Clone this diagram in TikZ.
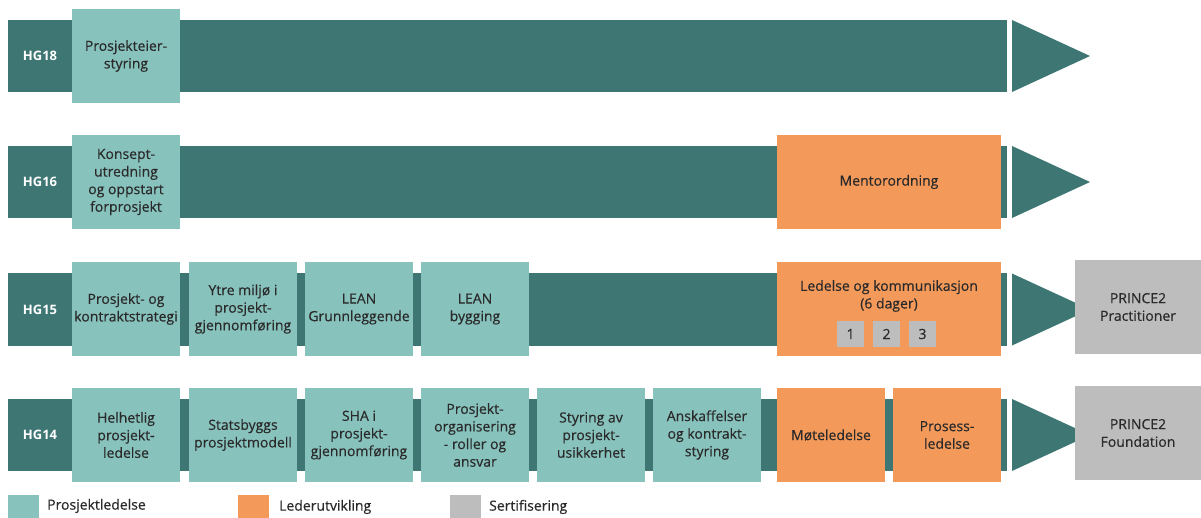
\documentclass[tikz,border=0pt]{standalone}
\usepackage{fontspec}
\setmainfont{Open Sans}
\newfontfamily\semif{Open Sans}[FakeBold=0.35]
\definecolor{dteal}{HTML}{3E7674}
\definecolor{lteal}{HTML}{87C2BC}
\definecolor{orng}{HTML}{F3995A}
\definecolor{gry}{HTML}{BDBDBD}
\definecolor{txt}{HTML}{2A2A2A}
\tikzset{
  bar/.style={fill=dteal, draw=none, minimum width=999pt, minimum height=72pt, inner sep=0pt},
  hglabel/.style={text=white, font=\fontsize{13}{17}\selectfont\bfseries},
  course/.style={fill=lteal, draw=none, minimum width=108pt, minimum height=94pt, inner sep=0pt, align=center, text=txt, font=\semif\fontsize{14}{17.6}\selectfont},
  lead/.style={course, fill=orng},
  cert/.style={course, fill=gry, minimum width=126pt},
  daybox/.style={fill=gry, draw=none, minimum width=27pt, minimum height=26pt, inner sep=0pt, text=txt, font=\semif\fontsize{14}{16}\selectfont},
  legsq/.style={draw=none, minimum width=31pt, minimum height=30pt, inner sep=0pt},
  legtxt/.style={anchor=west, text=txt, inner sep=0pt, font=\semif\fontsize{14}{16}\selectfont},
}
\begin{document}
\begin{tikzpicture}[x=1pt, y=-1pt]
\useasboundingbox[fill=white] (0,0) rectangle (1201,518);
% bars
\node[bar] (b18) at (507.5,56) {};
\node[bar] (b16) at (507.5,182) {};
\node[bar] (b15) at (507.5,309.5) {};
\node[bar] (b14) at (507.5,435) {};
% arrowheads
\foreach \yc in {56,182,309.5,435} {
  \fill[dteal] (1012,\yc-36) -- (1090,\yc) -- (1012,\yc+36) -- cycle;
}
% HG labels
\node[hglabel] (l18) at (40,56) {HG18};
\node[hglabel] (l16) at (40,182) {HG16};
\node[hglabel] (l15) at (40,309.5) {HG15};
\node[hglabel] (l14) at (40,435) {HG14};
% HG18
\node[course] (c18a) at (126,56) {Prosjekteier-\\styring};
% HG16
\node[course] (c16a) at (126,182) {Konsept-\\utredning\\og oppstart\\forprosjekt};
\node[lead, minimum width=224pt] (c16m) at (889,182) {Mentorordning};
% HG15
\node[course] (c15a) at (126,309) {Prosjekt- og\\kontraktstrategi};
\node[course] (c15b) at (243,309) {Ytre miljø i\\prosjekt-\\gjennomføring};
\node[course] (c15c) at (359,309) {LEAN\\Grunnleggende};
\node[course] (c15d) at (475,309) {LEAN\\bygging};
\node[lead, minimum width=224pt] (c15l) at (889,309) {};
\node[text=txt, align=center, font=\semif\fontsize{14}{17.6}\selectfont, inner sep=0pt] (c15lt) at (889,296) {Ledelse og kommunikasjon\\(6 dager)};
\node[daybox] (d1) at (850.5,334) {1};
\node[daybox] (d2) at (886.5,334) {2};
\node[daybox] (d3) at (922.5,334) {3};
\node[cert] (p15) at (1138,307) {PRINCE2\\Practitioner};
% HG14
\node[course] (c14a) at (126,435) {Helhetlig\\prosjekt-\\ledelse};
\node[course] (c14b) at (243,435) {Statsbyggs\\prosjektmodell};
\node[course] (c14c) at (359,435) {SHA i\\prosjekt-\\gjennomføring};
\node[course] (c14d) at (475,435) {Prosjekt-\\organisering\\- roller og\\ansvar};
\node[course] (c14e) at (591,435) {Styring av\\prosjekt-\\usikkerhet};
\node[course] (c14f) at (707,435) {Anskaffelser\\og kontrakt-\\styring};
\node[lead] (c14g) at (831,435) {Møteledelse};
\node[lead] (c14h) at (947,435) {Prosess-\\ledelse};
\node[cert] (p14) at (1138,433) {PRINCE2\\Foundation};
% legend
\node[legsq, fill=lteal] (sq1) at (23.5,510) {};
\node[legtxt] (t1) at (47,506) {Prosjektledelse};
\node[legsq, fill=orng] (sq2) at (253.5,510) {};
\node[legtxt] (t2) at (279,507) {Lederutvikling};
\node[legsq, fill=gry] (sq3) at (465.5,510) {};
\node[legtxt] (t3) at (489,507) {Sertifisering};
\end{tikzpicture}
\end{document}
